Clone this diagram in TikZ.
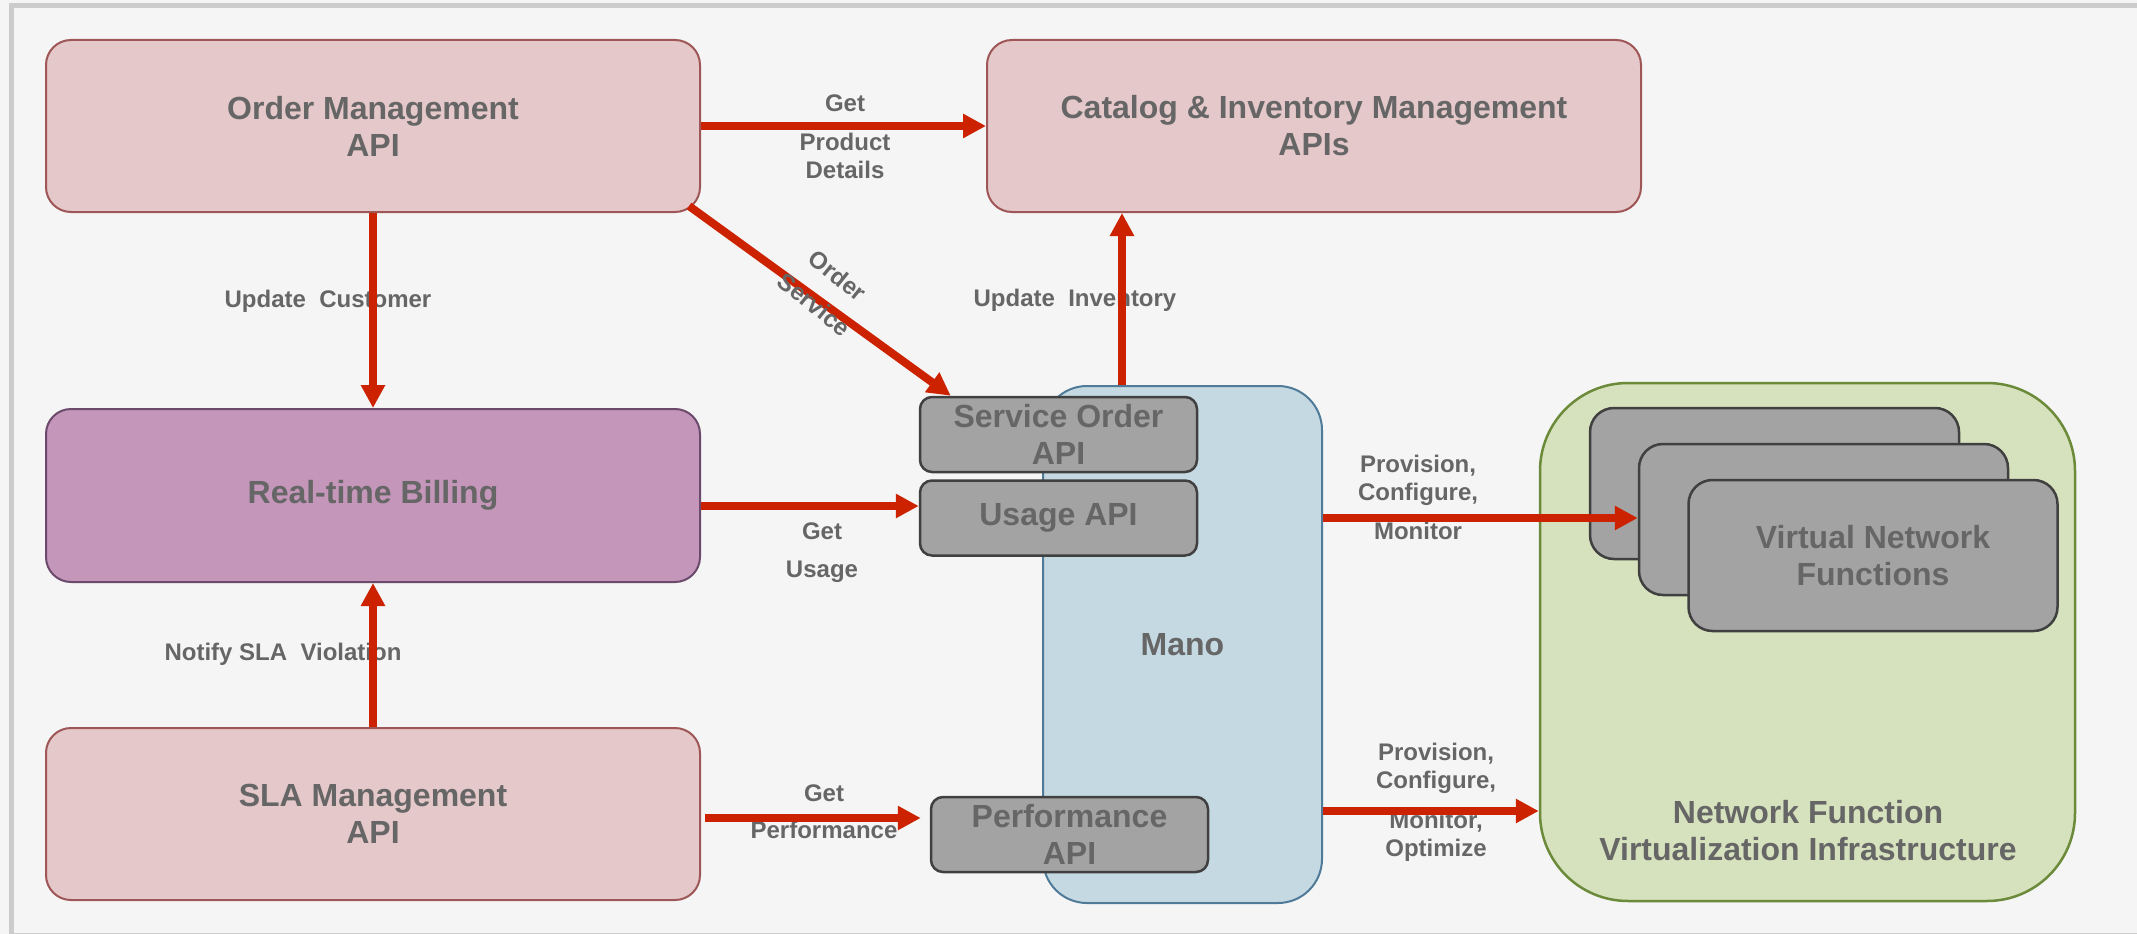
\documentclass[tikz,border=0pt]{standalone}
\usepackage{fontspec}
\setmainfont{Liberation Sans}
\usetikzlibrary{arrows.meta,calc}
\definecolor{bgc}{HTML}{F5F5F5}
\definecolor{framec}{HTML}{CCCCCC}
\definecolor{txtc}{HTML}{666666}
\definecolor{pinkf}{HTML}{E5C8C9}
\definecolor{pinkd}{HTML}{9E5656}
\definecolor{purpf}{HTML}{C396BA}
\definecolor{purpd}{HTML}{6C4A6C}
\definecolor{bluef}{HTML}{C5D9E2}
\definecolor{blued}{HTML}{4F7B99}
\definecolor{greenf}{HTML}{D6E2BD}
\definecolor{greend}{HTML}{6B8A3A}
\definecolor{grayf}{HTML}{A3A3A3}
\definecolor{grayd}{HTML}{404040}
\definecolor{arrred}{HTML}{CC2200}
\newcommand\dgbig{\fontsize{32}{37}\selectfont\bfseries}
\newcommand\dglab{\fontsize{24}{28}\selectfont\bfseries}
\tikzset{
  basebox/.style={inner sep=0pt, align=center, text=txtc, font=\dgbig},
  pinkbox/.style={basebox, draw=pinkd, fill=pinkf, line width=2pt, rounded corners=25pt, minimum width=654pt, minimum height=172pt},
  purplebox/.style={basebox, draw=purpd, fill=purpf, line width=2pt, rounded corners=25pt, minimum width=654pt, minimum height=173pt},
  manobox/.style={basebox, draw=blued, fill=bluef, line width=2pt, rounded corners=44pt, minimum width=279pt, minimum height=517pt},
  greenbox/.style={basebox, draw=greend, fill=greenf, line width=2.5pt, rounded corners=88pt, minimum width=535pt, minimum height=518pt},
  apibox/.style={basebox, draw=grayd, fill=grayf, line width=2.5pt, rounded corners=12pt, minimum width=277pt, minimum height=75pt},
  vnfbox/.style={basebox, draw=grayd, fill=grayf, line width=2.5pt, rounded corners=24pt, minimum width=369pt, minimum height=151pt},
  bigtext/.style={basebox},
  lab/.style={inner sep=0pt, align=center, text=txtc, font=\dglab},
  flow/.style={draw=arrred, line width=8pt, -{Triangle[width=23pt,length=23pt]}},
}
\begin{document}
\begin{tikzpicture}[x=1pt,y=-1pt]
\useasboundingbox (0,0) rectangle (2137,934);
\fill[bgc] (0,0) rectangle (2137,934);
\draw[framec, line width=5pt] (11.5,5.8) rectangle (2139.5,935.5);

% main boxes
\node[pinkbox] (om) at (373,126) {Order Management\\API};
\node[pinkbox] (cat) at (1314,126) {Catalog \& Inventory Management\\APIs};
\node[purplebox] (bill) at (373,495.5) {Real-time Billing};
\node[pinkbox] (sla) at (373,814) {SLA Management\\API};
\node[manobox] (mano) at (1182.5,644.5) {Mano};
\node[apibox] (soapi) at (1058.5,434.5) {Service Order\\API};
\node[apibox] (uapi) at (1058.5,518) {Usage API};
\node[apibox] (papi) at (1069.5,834.5) {Performance\\API};
\node[greenbox] (nfvi) at (1807.5,642) {};
\node[vnfbox] (vnf1) at (1774.5,483.5) {};
\node[vnfbox] (vnf2) at (1823.5,519.5) {};
\node[vnfbox] (vnf3) at (1873,555.5) {Virtual Network\\Functions};
\node[bigtext] (nfvitext) at (1808,831) {Network Function\\Virtualization Infrastructure};

% labels
\node[lab] (lprod) at (845,136.5) {Get\\[11pt]Product\\Details};
\node[lab] (lcust) at (328,301) {Update\ \ Customer};
\node[lab] (linv) at (1075,300) {Update\ \ Inventory};
\node[lab] (lusage) at (822,553) {Get\\[10pt]Usage};
\node[lab] (lsla) at (283,654) {Notify SLA\ \ Violation};
\node[lab] (lperf) at (824,811.5) {Get\\[9pt]Performance};
\node[lab] (lvnf) at (1418,497) {Provision,\\Configure,\\[11pt]Monitor};
\node[lab] (lnfvi) at (1436,802) {Provision,\\Configure,\\[12pt]Monitor,\\Optimize};

% connectors
\coordinate (xinv) at (1122,0);
\coordinate (yu) at (0,506);
\coordinate (yp) at (0,818);
\coordinate (yv) at (0,518);
\coordinate (yn) at (0,811);
\draw[flow] (om.east) -- (cat.west);
\draw[flow] (om.south) -- (bill.north);
\draw[flow] (sla.north) -- (bill.south);
\draw[flow] ($(om.south east)+(-12,-7)$) -- ($(soapi.north west)+(32,0)$);
\draw[flow] (mano.north -| xinv) -- (cat.south -| xinv);
\draw[flow] (bill.east |- yu) -- (uapi.west |- yu);
\draw[flow] ($(sla.east |- yp)+(4,0)$) -- ($(papi.west |- yp)+(-9,0)$);
\draw[flow] (mano.east |- yv) -- (vnf2.west |- yv);
\draw[flow] (mano.east |- yn) -- (nfvi.west |- yn);

\node[lab, rotate=-39] (lorder) at (826,290) {Order\\[9pt]Service};
\end{tikzpicture}
\end{document}
